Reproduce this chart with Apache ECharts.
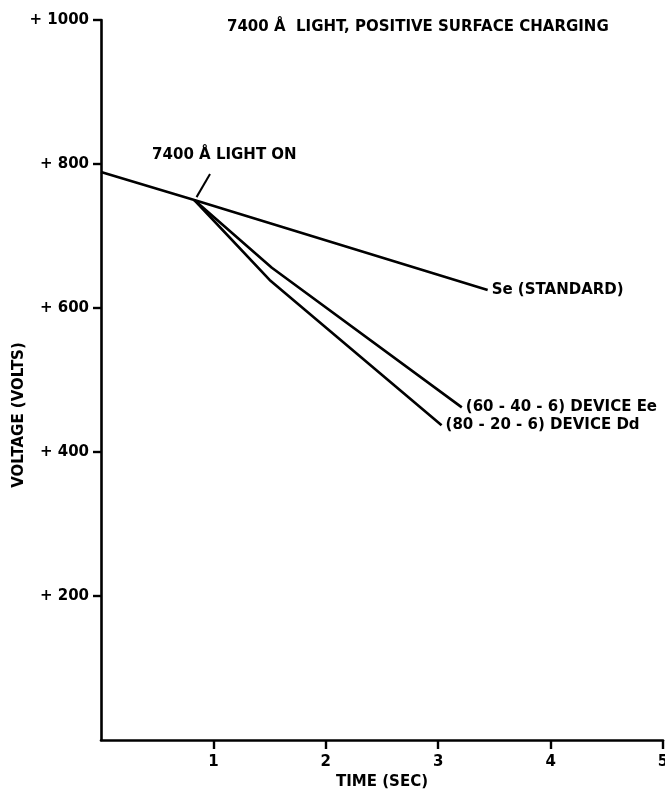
<!DOCTYPE html>
<html><head><meta charset="utf-8">
<script src="https://cdn.jsdelivr.net/npm/echarts@6/dist/echarts.min.js"></script>
<style>html,body{margin:0;padding:0;background:#fff}#c{width:665px;height:789px}</style>
</head><body><div id="c"></div>
<script>
const xTicks = [1, 2, 3, 4, 5];
const yTicks = [200, 400, 600, 800, 1000];
const seTime = [0, 0.83, 3.44];
const seVolt = [789, 750, 625];
const eeTime = [0.83, 1.52, 3.21];
const eeVolt = [750, 656, 462];
const ddTime = [0.83, 1.50, 3.03];
const ddVolt = [750, 639, 437];
const leaderTime = [0.97, 0.85];
const leaderVolt = [786, 754];
const noteTime = [0.41];
const noteVolt = [812];

const FONT = 'DejaVu Sans';
const zip = (a, b) => a.map((v, i) => [v, b[i]]);
const txt = {fontFamily: FONT, fontWeight: 'bold', fontSize: 15, color: '#000'};

function lineSeries(name, t, v, label) {
  return {
    type: 'line', name, data: zip(t, v), symbol: 'none', silent: true,
    lineStyle: {color: '#000', width: 2.6},
    label: {show: false},
    endLabel: label ? Object.assign({show: true, formatter: label, distance: 4}, txt) : {show: false}
  };
}

const chart = echarts.init(document.getElementById('c'), null, {renderer: 'canvas'});
chart.setOption({
  animation: false,
  backgroundColor: '#fff',
  title: {
    text: '7400 Å  LIGHT, POSITIVE SURFACE CHARGING',
    left: 227, top: 20, padding: 0,
    textStyle: txt
  },
  grid: {left: 101, right: 2, top: 20, bottom: 49, containLabel: false, outerBoundsMode: 'none'},
  xAxis: {
    type: 'value', min: 0, max: 5, interval: 1,
    name: 'TIME (SEC)', nameLocation: 'middle', nameGap: 34,
    nameTextStyle: txt,
    axisLine: {lineStyle: {color: '#000', width: 2.6}},
    axisTick: {show: true, length: 9, customValues: xTicks, lineStyle: {color: '#000', width: 2.4}},
    axisLabel: Object.assign({customValues: xTicks, margin: 15}, txt),
    splitLine: {show: false}
  },
  yAxis: {
    type: 'value', min: 0, max: 1000, interval: 200,
    name: 'VOLTAGE (VOLTS)', nameLocation: 'middle', nameGap: 74, nameRotate: 90,
    nameMoveOverlap: false,
    nameTextStyle: Object.assign({}, txt, {padding: [0, 70, 0, 0]}),
    axisLine: {lineStyle: {color: '#000', width: 2.6}},
    axisTick: {show: true, length: 8, customValues: yTicks, lineStyle: {color: '#000', width: 2.4}},
    axisLabel: Object.assign({customValues: yTicks, margin: 12, formatter: v => '+ ' + v}, txt),
    splitLine: {show: false}
  },
  series: [
    lineSeries('Se', seTime, seVolt, 'Se (STANDARD)'),
    lineSeries('Ee', eeTime, eeVolt, '(60 - 40 - 6) DEVICE Ee'),
    lineSeries('Dd', ddTime, ddVolt, '(80 - 20 - 6) DEVICE Dd'),
    {type: 'line', data: zip(leaderTime, leaderVolt), symbol: 'none', silent: true,
     lineStyle: {color: '#000', width: 2}},
    {type: 'scatter', data: zip(noteTime, noteVolt), symbolSize: 0, silent: true,
     itemStyle: {color: '#000', opacity: 1},
     label: Object.assign({show: true, position: 'right', distance: 5, formatter: '7400 Å LIGHT ON'}, txt)}
  ]
});
</script></body></html>
